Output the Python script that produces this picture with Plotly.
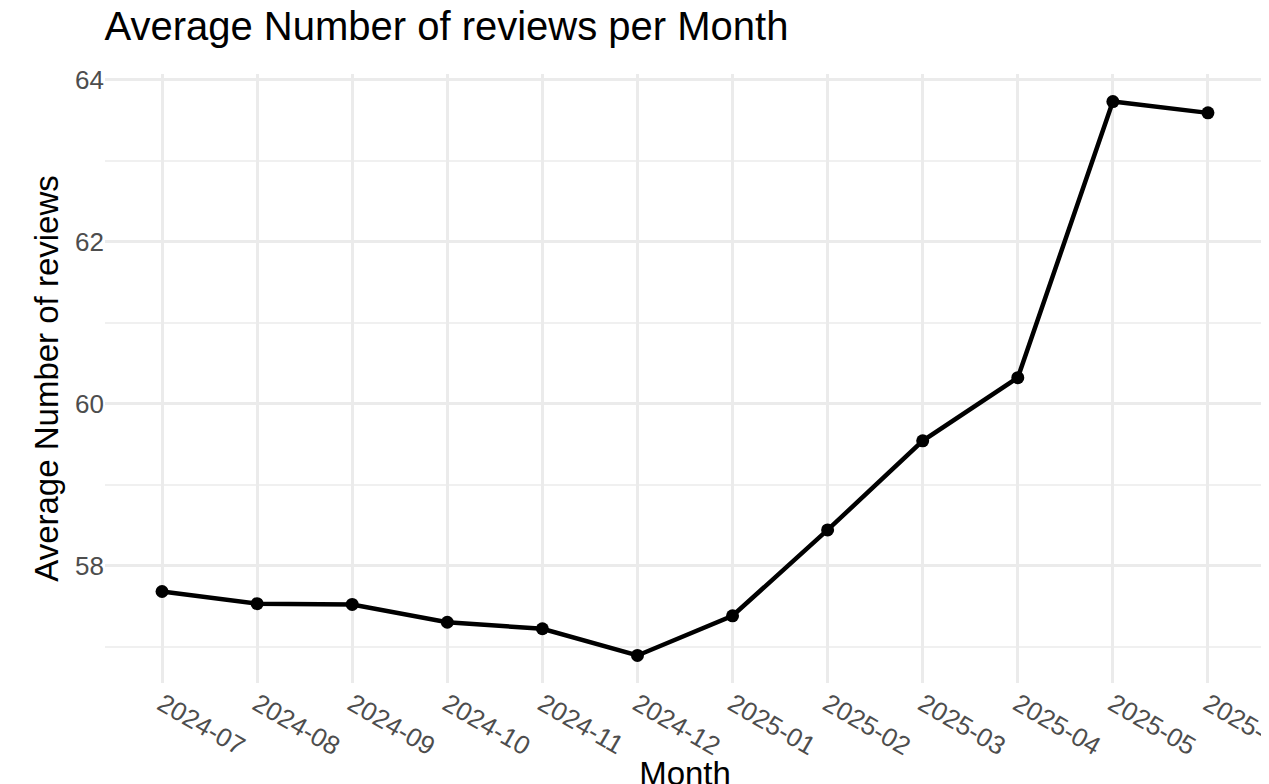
import plotly.graph_objects as go

months = ["2024-07", "2024-08", "2024-09", "2024-10", "2024-11", "2024-12",
          "2025-01", "2025-02", "2025-03", "2025-04", "2025-05", "2025-06"]
avg_reviews = [57.68, 57.53, 57.52, 57.30, 57.22, 56.89,
               57.38, 58.44, 59.54, 60.32, 63.73, 63.59]

fig = go.Figure()
fig.add_trace(go.Scatter(
    x=months, y=avg_reviews, mode="lines+markers",
    line=dict(color="black", width=4.5),
    marker=dict(color="black", size=13),
    showlegend=False,
))

fig.update_layout(
    width=1269, height=784,
    paper_bgcolor="white", plot_bgcolor="white",
    margin=dict(l=97, r=12, t=66, b=109, autoexpand=False),
    font=dict(family="Liberation Sans, Arial, sans-serif", color="black"),
    title=dict(text="Average Number of reviews per Month", x=0.076, xanchor="left",
               y=0.995, yanchor="top", font=dict(size=40, color="black")),
    xaxis=dict(
        type="category", range=[-0.6, 11.6], automargin=False,
        showgrid=True, gridcolor="#ebebeb", gridwidth=2.5,
        tickfont=dict(size=26, color="#4d4d4d"), ticks="", zeroline=False,
        title=dict(text="Month", font=dict(size=33, color="black"), standoff=4),
    ),
    yaxis=dict(
        range=[56.55, 64.07], tickvals=[58, 60, 62, 64], automargin=False,
        showgrid=True, gridcolor="#ebebeb", gridwidth=2.5,
        minor=dict(tickvals=[57, 59, 61, 63], showgrid=True,
                   gridcolor="#f0f0f0", gridwidth=1.5),
        tickfont=dict(size=26, color="#4d4d4d"), ticks="", zeroline=False,
        title=dict(text="Average Number of reviews", font=dict(size=33, color="black"),
                   standoff=6),
    ),
)

fig.write_html("out.html")
